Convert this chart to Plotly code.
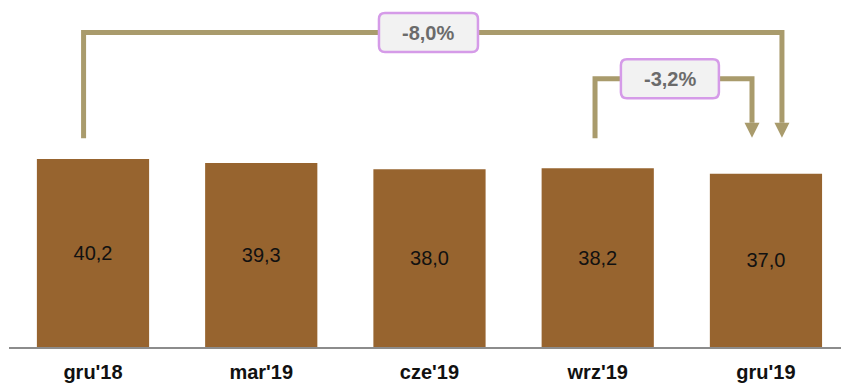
import plotly.graph_objects as go

# Quarterly values
categories = ["gru'18", "mar'19", "cze'19", "wrz'19", "gru'19"]
values = [40.2, 39.3, 38.0, 38.2, 37.0]
value_labels = ["40,2", "39,3", "38,0", "38,2", "37,0"]

# Change brackets: (from index, to index, label)
changes = [(0, 4, "-8,0%"), (3, 4, "-3,2%")]

BAR_COLOR = "#97642F"
LINE_COLOR = "#A99B6C"
BOX_BORDER = "#D59BE8"
BOX_FILL = "#F2F2F2"
FONT = "Liberation Sans, Arial, sans-serif"

W, H = 841, 383
ML, MR, MT, MB = 9, 0, 0, 36
X_RANGE = [-0.4993, 4.446]
Y_RANGE = [0, 74.15]

fig = go.Figure()
fig.add_trace(go.Bar(
    x=list(range(len(categories))),
    y=values,
    width=0.667,
    marker=dict(color=BAR_COLOR, line=dict(width=0)),
    text=value_labels,
    textposition="inside",
    insidetextanchor="middle",
    textfont=dict(family=FONT, size=20, color="#111111"),
    hoverinfo="skip",
))

# pixel -> data scale helpers
px_x = (X_RANGE[1] - X_RANGE[0]) / (W - ML - MR)
px_y = (Y_RANGE[1] - Y_RANGE[0]) / (H - MT - MB)

shapes = []
annotations = []

def rounded_box(cx, cy, w_px, h_px, r_px=6):
    hw, hh = w_px / 2 * px_x, h_px / 2 * px_y
    rx, ry = r_px * px_x, r_px * px_y
    x0, x1, y0, y1 = cx - hw, cx + hw, cy - hh, cy + hh
    path = (f"M{x0+rx},{y0} L{x1-rx},{y0} Q{x1},{y0} {x1},{y0+ry} "
            f"L{x1},{y1-ry} Q{x1},{y1} {x1-rx},{y1} L{x0+rx},{y1} "
            f"Q{x0},{y1} {x0},{y1-ry} L{x0},{y0+ry} Q{x0},{y0} {x0+rx},{y0} Z")
    return dict(type="path", path=path, fillcolor=BOX_FILL,
                line=dict(color=BOX_BORDER, width=2.5), layer="above")

def arrow_head(x, tip_y):
    hw = 7.5 * px_x
    h = 15 * px_y
    return dict(type="path",
                path=f"M{x-hw},{tip_y+h} L{x+hw},{tip_y+h} L{x},{tip_y} Z",
                fillcolor=LINE_COLOR, line=dict(width=0))

# bracket geometry, per change: offsets of verticals and bracket level
bracket_cfg = [
    dict(left_dx=-0.056, right_dx=0.095, level=67.2, box_w=99, box_x=1.994),
    dict(left_dx=-0.016, right_dx=-0.083, level=57.3, box_w=98, box_x=3.429),
]
start_y = 44.6
tip_y = 44.7
head_h = 15 * px_y

for (i0, i1, lab), cfg in zip(changes, bracket_cfg):
    xl = i0 + cfg["left_dx"]
    xr = i1 + cfg["right_dx"]
    lv = cfg["level"]
    path = f"M{xl},{start_y} L{xl},{lv} L{xr},{lv} L{xr},{tip_y + head_h}"
    shapes.append(dict(type="path", path=path,
                       line=dict(color=LINE_COLOR, width=5)))
    shapes.append(arrow_head(xr, tip_y))
    shapes.append(rounded_box(cfg["box_x"], lv, cfg["box_w"], 39))
    annotations.append(dict(x=cfg["box_x"], y=lv, xref="x", yref="y",
                            text=f"<b>{lab}</b>", showarrow=False,
                            font=dict(family=FONT, size=20, color="#6B6B6B")))

fig.update_layout(
    width=W, height=H,
    margin=dict(l=ML, r=MR, t=MT, b=MB),
    paper_bgcolor="white", plot_bgcolor="white",
    showlegend=False,
    shapes=shapes,
    annotations=annotations,
    xaxis=dict(range=X_RANGE, tickvals=list(range(len(categories))),
               ticktext=[f"<b>{c}</b>" for c in categories],
               tickfont=dict(family=FONT, size=20, color="#111111"),
               showline=True, linecolor="#8C8C8C", linewidth=2,
               showgrid=False, zeroline=False, ticks="outside", ticklen=6,
               tickcolor="rgba(0,0,0,0)", fixedrange=True),
    yaxis=dict(range=Y_RANGE, visible=False, showgrid=False, zeroline=False,
               fixedrange=True),
)

fig.write_html("out.html", config={"displayModeBar": False})
